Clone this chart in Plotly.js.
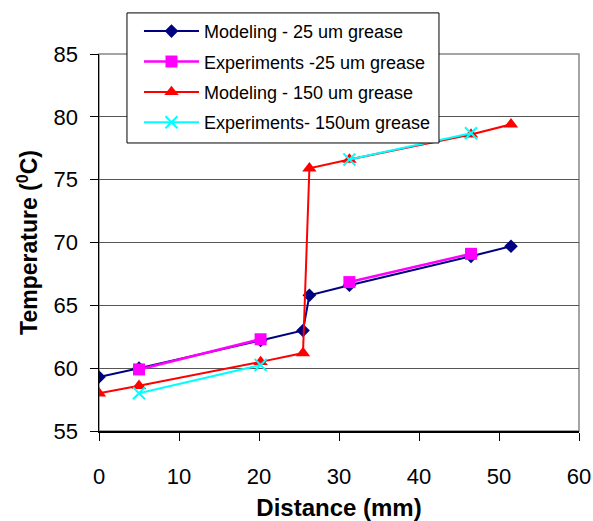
<!DOCTYPE html>
<html>
<head>
<meta charset="utf-8">
<script src="https://cdn.plot.ly/plotly-3.0.1.min.js"></script>
<style>body{margin:0;padding:0;background:#fff;} #chart{width:593px;height:521px;}</style>
</head>
<body>
<div id="chart"></div>
<script>
const distance = [0, 5, 20.2, 25.5, 26.3, 31.3, 46.5, 51.5];
const model25Y = [59.3, 60.0, 62.2, 63.0, 65.8, 66.6, 68.9, 69.7];
const exp25Y = [null, 59.9, 62.3, null, null, 66.85, 69.1, null];
const model150Y = [58.0, 58.6, 60.5, 61.2, 75.9, 76.6, 78.6, 79.4];
const exp150Y = [null, 58.0, 60.25, null, null, 76.6, 78.7, null];
const seriesNames = ["Modeling - 25 um grease", "Experiments -25 um grease", "Modeling - 150 um grease", "Experiments- 150um grease"];
const xTicks = [0, 10, 20, 30, 40, 50, 60];
const yTicks = [55, 60, 65, 70, 75, 80, 85];

const FONT = "Liberation Sans, Arial, sans-serif";

const traces = [
  {x: distance, y: model25Y, name: seriesNames[0], legendgroup: "a", mode: "lines+markers", connectgaps: false,
   line: {color: "#000080", width: 2}, marker: {symbol: "diamond", size: 10.5, color: "#000080"}},
  {x: distance, y: exp25Y, name: seriesNames[1], legendgroup: "b", mode: "lines+markers", connectgaps: false,
   line: {color: "#FF00FF", width: 2.5}, marker: {symbol: "square", size: 12, color: "#FF00FF"}},
  {x: distance, y: model150Y, name: seriesNames[2], legendgroup: "c", mode: "lines+markers", connectgaps: false,
   line: {color: "#FF0000", width: 2}, marker: {symbol: "triangle-up", size: 12.5, color: "#FF0000"}},
  {x: distance, y: exp150Y, name: seriesNames[3], legendgroup: "d", mode: "lines+markers", connectgaps: false,
   line: {color: "#00FFFF", width: 2}, marker: {symbol: "x-thin", size: 12, color: "#00FFFF", line: {color: "#00FFFF", width: 2}}}
];

const layout = {
  width: 593, height: 521,
  margin: {l: 99, r: 14, t: 54, b: 90},
  paper_bgcolor: "#fff", plot_bgcolor: "#fff",
  font: {family: FONT, color: "#000", size: 18},
  showlegend: true,
  legend: {
    x: 0.0833, y: 1.109, xanchor: "left", yanchor: "top",
    bgcolor: "rgba(0,0,0,0)", borderwidth: 0,
    font: {family: FONT, size: 18, color: "#000"},
    itemwidth: 55,
    traceorder: "grouped", tracegroupgap: 4
  },
  xaxis: {
    range: [0, 60], tickvals: xTicks, ticks: "outside", ticklen: 8, tickcolor: "#000",
    showline: true, linecolor: "#000", linewidth: 1.5, showgrid: false, zeroline: false,
    tickfont: {family: FONT, size: 22}, ticklabelstandoff: 17,
    title: {text: "Distance (mm)", font: {family: FONT, size: 24, weight: "bold"}, standoff: 16},
    automargin: false, fixedrange: true
  },
  yaxis: {
    range: [55, 85], tickvals: yTicks, ticks: "outside", ticklen: 8, tickcolor: "#000",
    showline: true, linecolor: "#000", linewidth: 1.5, showgrid: true, gridcolor: "#555", gridwidth: 1,
    zeroline: false, tickfont: {family: FONT, size: 22}, ticklabelstandoff: 7,
    title: {text: "Temperature (<sup>0</sup>C)", font: {family: FONT, size: 23, weight: "bold"}, standoff: 9},
    automargin: false, fixedrange: true
  },
  shapes: [
    {type: "rect", xref: "paper", yref: "paper", x0: 0, x1: 1, y0: 0, y1: 1,
     line: {color: "#888", width: 1.5}, layer: "below"},
    {type: "rect", xref: "paper", yref: "paper", x0: 0.0583, x1: 0.7083, y0: 0.764, y1: 1.109,
     fillcolor: "#fff", line: {color: "#000", width: 1}, layer: "above"}
  ]
};

Plotly.newPlot("chart", traces, layout, {displayModeBar: false, staticPlot: true});
</script>
</body>
</html>
